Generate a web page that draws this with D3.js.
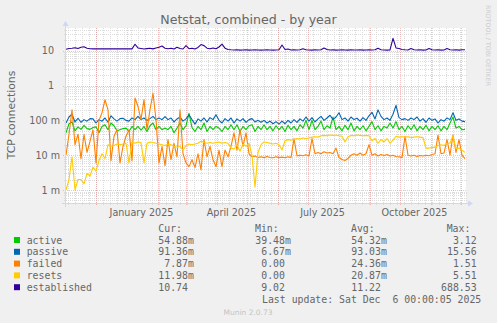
<!DOCTYPE html>
<html><head><meta charset="utf-8">
<script src="https://cdn.jsdelivr.net/npm/d3@7"></script>
<style>
html,body{margin:0;padding:0;background:#F0F0F0;}
svg{display:block;}
text{white-space:pre;}
</style></head><body>
<svg id="c" width="497" height="323"></svg>
<script>
// ---------------- DATA ----------------
const rangeEnd = new Date(2025, 11, 6, 0, 0, 5);   // "Last update"
const rangeDays = 400;                              // munin "by year" window
const stepDays = 3;                                 // one sample every 3 days

const seriesNames = ["active", "passive", "failed", "resets", "established"];
const seriesColors = ["#00CC00", "#0066B3", "#FF8000", "#FFCC00", "#330099"];

// values in milli-connections (m)
const activeMilli = [44,80,90,50,65,55,72,58,55,62, 65,44,67,75,54,84,70,50,54,58, 60,48,67,54,67,52,67,48,70,84,
 54,67,54,60,54,67,44,60,84,54, 70,160,62,48,67,54,84,48,67,54, 67,60,48,67,54,75,54,75,48,67,
 54,70,75,48,67,54,75,54,67,50, 70,54,67,48,72,54,67,50,75,60, 100,54,100,54,67,95,54,70,60,125,
 54,67,50,72,54,84,50,67,54,70, 50,67,92,54,70,50,67,60,84,60, 92,54,67,48,70,54,75,50,67,54,
 72,50,67,54,70,50,67,54,84,125, 60,67,54,55];
const passiveMilli = [84,125,150,90,115,88,105,95,112,110, 84,105,95,117,88,135,110,95,112,115, 100,95,117,105,130,105,117,100,112,130,
 105,117,105,128,105,117,90,110,125,95, 110,145,105,78,110,95,117,90,120,105, 145,100,84,112,95,117,84,110,95,112,
 88,105,112,90,100,88,100,84,95,80, 92,78,95,80,100,84,105,88,110,95, 125,95,120,90,110,130,100,117,140,105,
 125,165,105,117,95,125,105,115,95,120, 100,135,170,110,200,130,105,117,100,150, 270,120,105,112,100,117,105,125,95,112,
 88,117,100,110,84,105,95,117,105,165, 100,110,95,92];
const failedMilli = [10,40,200,20,40,8,40,12,25,54, 6,100,166,390,200,7,35,54,6,18, 35,54,7,440,250,105,393,54,203,600,
 105,6,18,5,28,7.4,22,9,200,11, 6,4.7,7.4,4.4,11,3.8,28,9,18,7.4, 4.7,14,4.7,14,9,18,44,14,54,18,
 44,11,9,9.5,8.5,9,8.5,9.2,8.6,8.4, 9,8.5,8.8,8.4,9,8.5,30,9.5,10,9.6, 10.3,9.5,30,11,12,11,12.5,11.5,12,11,
 16,8.5,7.5,7,8,10,11,10,11.5,10, 11,20,10,11,9.5,10.5,9.8,10.5,9.5,10, 9.2,9,8.5,35,10,9.5,10,9.2,9.8,9.5,
 10,9.6,10.5,11,38,11,11.5,28,10,38, 12,28,10,8];
const resetsMilli = [1.0,2.0,9,1.0,2.0,2.0,1.5,3.0,2.5,4.5, 3.5,7,11,8,20,18,19,21,20,21, 22,6,24,22,24,23,6,22,24,23,
 22,21,20,19,21,20,18,17,18,14, 19,21,20,21,22,25,23,22,23,22, 23,24,22,23,22,16,15,20,13,21,
 18,22,10,1.2,12,20,24,23,22,21, 22,20,14,26,28,27,28,30,29,31, 30,31,33,34,33,36,37,36,38,37,
 38,36,35,24,34,37,36,38,37,36, 37,36,26,30,22,28,24,30,22,27, 35,33,34,33,34,32,33,34,33,32,
 16,16,16.5,17,19,20,19,22,22,36, 15,16,14,12];
// values in connections
const established = [11.0,11.6,11.8,12.2,11.6,12.6,13.0,11.8,11.4,11.3, 11.3,11.4,11.3,11.3,11.3,11.4,11.3,11.3,11.3,11.4,
 11.3,11.3,11.3,15.3,12.0,11.6,11.2,11.5,11.8,11.3, 12.0,12.6,13.6,11.8,11.4,11.8,11.2,12.6,11.6,11.2,
 14.0,11.4,11.8,11.2,12.4,15.0,14.0,11.8,11.4,12.0, 11.4,12.8,15.4,11.8,10.8,10.6,10.5,10.7,10.4,10.5,
 10.6,10.4,10.5,10.6,10.5,10.4,10.5,10.6,10.5,10.4, 10.5,10.6,14.6,10.8,11.2,10.5,10.6,10.5,10.6,11.4,
 10.6,10.5,10.4,10.6,10.5,10.7,12.0,10.8,10.5,10.6, 10.4,10.5,10.6,10.5,10.4,10.6,10.5,10.5,10.6,10.4,
 10.5,10.6,10.5,10.7,11.8,10.6,10.5,10.4,10.5,22.7, 12.0,11.6,10.8,10.6,10.5,11.6,10.6,10.5,10.6,10.4,
 10.5,11.6,10.6,10.5,10.6,10.4,10.5,11.6,10.6,10.5, 10.6,10.4,10.6,10.7];

const yTickValues = [0.001, 0.01, 0.1, 1, 10];
const yTickLabels = ["1 m", "10 m", "100 m", "1", "10"];
const xTickLabels = ["January 2025", "April 2025", "July 2025", "October 2025"];

const legendCur = ["54.88m", "91.36m", "7.87m", "11.98m", "10.74"];
const legendMin = ["39.48m", "6.67m", "0.00", "0.00", "9.02"];
const legendAvg = ["54.32m", "93.03m", "24.36m", "20.87m", "11.22"];
const legendMax = ["3.12", "15.56", "1.51", "5.51", "688.53"];

// ---------------- DRAW ----------------
const W = 497, H = 323;
const plot = {x: 66, y: 28, w: 400, h: 175};
const rangeStart = d3.timeDay.offset(rangeEnd, -rangeDays);

const svg = d3.select("#c");
const SANS = "'DejaVu Sans', sans-serif";
const MONO = "'DejaVu Sans Mono', monospace";
const FONT_COL = "#666666";
const AXIS_COL = "#CFD6F8";

svg.append("rect").attr("width", W).attr("height", H).attr("fill", "#F0F0F0");
svg.append("rect").attr("x", plot.x).attr("y", plot.y).attr("width", plot.w).attr("height", plot.h).attr("fill", "#FFFFFF");

const x = d3.scaleTime().domain([rangeStart, rangeEnd]).range([plot.x, plot.x + plot.w]);
const y = d3.scaleLog().domain([Math.pow(10, -3.373), Math.pow(10, 1.652)]).range([plot.y + plot.h, plot.y]);

const px = v => Math.round(v) + 0.5;
const gridG = svg.append("g");
const MINOR = "#DCDCDC", MAJOR = "rgba(225,90,90,0.38)";

// horizontal minor grid (2..9 per decade)
const minorY = [];
for (let k = -4; k <= 1; k++) for (let m = 2; m <= 9; m++) {
  const v = m * Math.pow(10, k);
  if (y(v) >= plot.y && y(v) <= plot.y + plot.h) minorY.push(v);
}
gridG.selectAll(".hmin").data(minorY).join("line")
  .attr("x1", plot.x - 2).attr("x2", plot.x + plot.w + 1)
  .attr("y1", d => px(y(d))).attr("y2", d => px(y(d)))
  .attr("stroke", MINOR).attr("stroke-dasharray", "1,1");
// vertical minor grid (weeks)
const weeks = d3.timeSunday.range(rangeStart, rangeEnd);
gridG.selectAll(".vmin").data(weeks).join("line")
  .attr("x1", d => px(x(d))).attr("x2", d => px(x(d)))
  .attr("y1", plot.y).attr("y2", plot.y + plot.h + 2)
  .attr("stroke", MINOR).attr("stroke-dasharray", "1,1");
// horizontal major grid (decades)
gridG.selectAll(".hmaj").data(yTickValues).join("line")
  .attr("x1", plot.x - 3).attr("x2", plot.x + plot.w + 1)
  .attr("y1", d => px(y(d))).attr("y2", d => px(y(d)))
  .attr("stroke", MAJOR).attr("stroke-dasharray", "1,1");
// vertical major grid (months)
const months = d3.timeMonth.range(d3.timeMonth.ceil(rangeStart), rangeEnd);
gridG.selectAll(".vmaj").data(months).join("line")
  .attr("x1", d => px(x(d))).attr("x2", d => px(x(d)))
  .attr("y1", plot.y).attr("y2", plot.y + plot.h + 3)
  .attr("stroke", MAJOR).attr("stroke-dasharray", "1,1");

// series
svg.append("clipPath").attr("id", "clip").append("rect")
  .attr("x", plot.x).attr("y", plot.y).attr("width", plot.w + 1).attr("height", plot.h);
const seriesValues = [
  activeMilli.map(v => v / 1000),
  passiveMilli.map(v => v / 1000),
  failedMilli.map(v => v / 1000),
  resetsMilli.map(v => v / 1000),
  established
];
const line = d3.line()
  .x((d, i) => x(d3.timeDay.offset(rangeStart, i * stepDays)))
  .y(d => y(d));
const lineG = svg.append("g").attr("clip-path", "url(#clip)");
seriesValues.forEach((vals, k) => {
  lineG.append("path").attr("d", line(vals)).attr("fill", "none")
    .attr("stroke", seriesColors[k]).attr("stroke-width", 1.1)
    .attr("stroke-linejoin", "round");
});

// axes
const axisY = plot.y + plot.h + 0.5;
svg.append("line").attr("x1", plot.x - 4).attr("x2", plot.x + plot.w + 3)
  .attr("y1", axisY).attr("y2", axisY).attr("stroke", AXIS_COL);
svg.append("path").attr("d", `M${plot.x + plot.w + 2},${axisY - 3}L${plot.x + plot.w + 7},${axisY}L${plot.x + plot.w + 2},${axisY + 3}Z`)
  .attr("fill", AXIS_COL);
const axisX = plot.x - 0.5;
svg.append("line").attr("x1", axisX).attr("x2", axisX)
  .attr("y1", plot.y + plot.h + 4).attr("y2", plot.y - 3).attr("stroke", AXIS_COL);
svg.append("path").attr("d", `M${axisX - 3},${plot.y - 2}L${axisX},${plot.y - 7}L${axisX + 3},${plot.y - 2}Z`)
  .attr("fill", AXIS_COL);

// tick labels
svg.selectAll(".ylab").data(yTickValues).join("text")
  .attr("x", (d, i) => yTickLabels[i].includes(" ") ? 60 : 54)
  .attr("y", d => y(d) + 3.5)
  .attr("text-anchor", "end").attr("font-family", SANS).attr("font-size", 9.6)
  .attr("fill", FONT_COL).text((d, i) => yTickLabels[i]);
const parseMonth = d3.timeParse("%B %Y");
svg.selectAll(".xlab").data(xTickLabels).join("text")
  .attr("x", d => x(d3.timeHour.offset(parseMonth(d), 14 * 24 + 12)))
  .attr("y", 215.5)
  .attr("text-anchor", "middle").attr("font-family", SANS).attr("font-size", 9.6)
  .attr("fill", FONT_COL).text(d => d);

// titles
svg.append("text").attr("x", 248.5).attr("y", 23.5).attr("text-anchor", "middle")
  .attr("font-family", SANS).attr("font-size", 12.6).attr("fill", FONT_COL)
  .text("Netstat, combined - by year");
svg.append("text").attr("transform", "translate(15,115) rotate(-90)").attr("text-anchor", "middle")
  .attr("font-family", SANS).attr("font-size", 10.8).attr("fill", FONT_COL)
  .text("TCP connections");
svg.append("text").attr("transform", "translate(485.5,5) rotate(90)").attr("text-anchor", "start")
  .attr("font-family", SANS).attr("font-size", 6.3).attr("fill", "#CCCCCC")
  .text("RRDTOOL / TOBI OETIKER");

// legend
const LF = 9.85, cw = 0.602 * LF;
const leg = svg.append("g").attr("font-family", MONO).attr("font-size", LF).attr("fill", FONT_COL);
[["Cur:", 158.3], ["Min:", 255], ["Avg:", 351], ["Max:", 446.7]].forEach(([t, xx]) => {
  leg.append("text").attr("x", xx).attr("y", 231.8).text(t);
});
const colRight = [193.9, 290.9, 386.9, 482.6];
const cols = [legendCur, legendMin, legendAvg, legendMax];
seriesNames.forEach((name, i) => {
  const cy = 240 + i * 11.8;
  leg.append("rect").attr("x", 14).attr("y", cy - 3).attr("width", 6).attr("height", 6).attr("fill", seriesColors[i]);
  leg.append("text").attr("x", 26.7).attr("y", cy + 3.5).text(name);
  cols.forEach((col, c) => {
    const s = col[i];
    const hasUnit = /[a-zA-Z]$/.test(s);
    leg.append("text").attr("x", colRight[c] - (hasUnit ? 0 : cw)).attr("y", cy + 3.5)
      .attr("text-anchor", "end").text(s);
  });
});
leg.append("text").attr("x", 262).attr("y", 303.3).text("Last update: Sat Dec  6 00:00:05 2025");
svg.append("text").attr("x", 248).attr("y", 314.7).attr("text-anchor", "middle")
  .attr("font-family", SANS).attr("font-size", 7.5).attr("fill", "#C4C4C4").text("Munin 2.0.73");
</script>
</body></html>
